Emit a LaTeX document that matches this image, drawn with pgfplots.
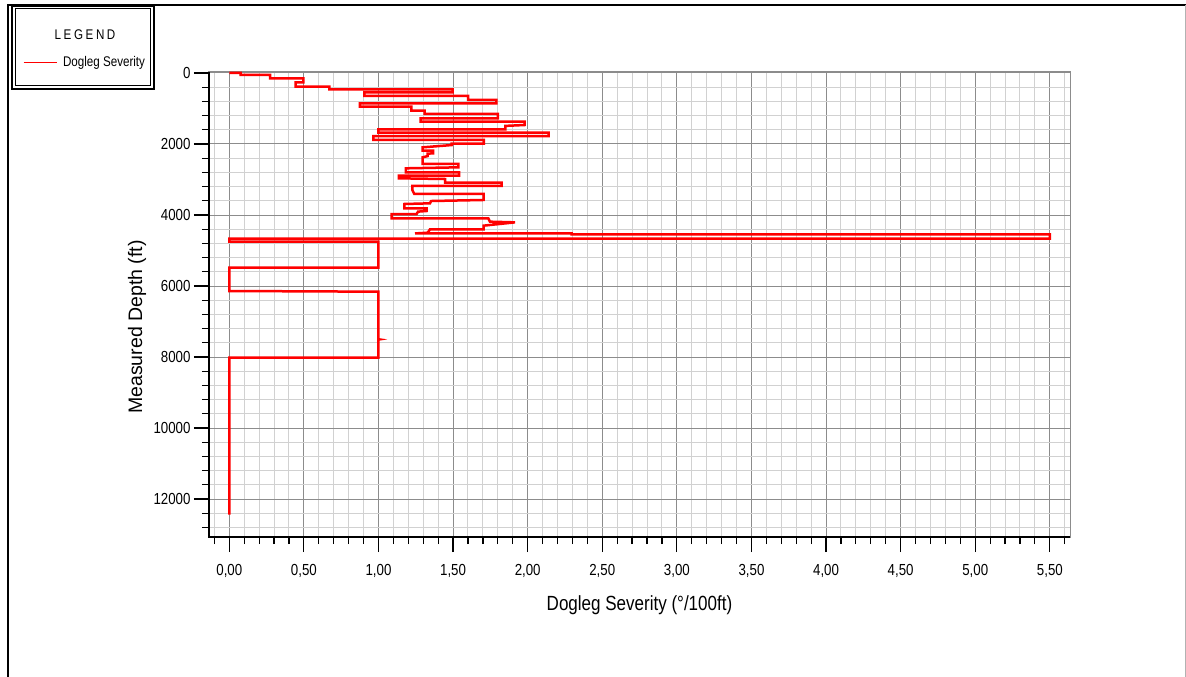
\documentclass[border=0pt]{standalone}
\usepackage{fontspec}
\setmainfont{Liberation Sans}
\newfontfamily\narrowfont[FakeStretch=0.83]{Liberation Sans}
\usepackage{pgfplots}
\pgfplotsset{compat=1.18}
\begin{document}
\begin{tikzpicture}[x=1pt,y=1pt]
\useasboundingbox (0,0) rectangle (1186,677);
% outer frame
\draw[black, line width=2pt] (8,0) -- (8,672) -- (1186,672);
\draw[black!30, line width=1pt] (1185,672) -- (1185,0);
% legend frame
\draw[black, line width=2.4pt] (12,671) rectangle (153.8,588);
\draw[black, line width=0.8pt] (15.2,669) rectangle (150.7,591.3);
\node[font=\narrowfont\fontsize{14}{16}\selectfont] at (85,642) {L\kern2.6pt E\kern2.6pt G\kern2.6pt E\kern2.6pt N\kern2.6pt D};
\begin{axis}[
  at={(209pt,140pt)}, anchor=south west,
  scale only axis, width=861pt, height=465pt,
  xmin=-0.136, xmax=5.635, ymin=-28, ymax=13070,
  y dir=reverse,
  clip=false,
  scaled y ticks=false, scaled x ticks=false,
  xtick={0,0.5,...,5.5},
  minor xtick={-0.1,0.1,0.2,...,5.6},
  ytick={0,2000,...,12000},
  minor ytick={400,800,...,12800},
  xtick pos=lower, ytick pos=left,
  tick align=outside,
  major tick length=15pt, minor tick length=7pt,
  tick style={black, line width=1.2pt},
  grid=both,
  major grid style={draw=black!45, line width=1pt},
  minor grid style={draw=black!18, line width=1pt},
  axis line style={draw=black!45, line width=1pt},
  /pgf/number format/assume math mode=true,
  xticklabel style={yshift=-9pt, font=\narrowfont\fontsize{16}{18}\selectfont, /pgf/number format/.cd, fixed, fixed zerofill, precision=2, use comma},
  yticklabel style={font=\narrowfont\fontsize{16}{18}\selectfont, /pgf/number format/.cd, fixed, precision=0, 1000 sep={}},
  xlabel={Dogleg Severity (°/100ft)},
  ylabel={Measured Depth (ft)},
  xlabel style={at={(axis description cs:0.5,-0.146)}, anchor=center, font=\narrowfont\fontsize{20.5}{22}\selectfont},
  ylabel style={at={(axis description cs:-0.0836,0.4516)}, anchor=center, font=\fontsize{19.5}{22}\selectfont},
  legend style={at={(axis description cs:-0.216,1.0215)}, anchor=west, draw=none, fill=none, inner sep=0pt, outer sep=0pt, font=\narrowfont\fontsize{14}{16}\selectfont, column sep=6pt, nodes={inner sep=0pt}},
  legend image code/.code={\draw[#1, line width=1pt] (0pt,0pt) -- (33pt,0pt);},
]
\addplot[red, line width=2.5pt] coordinates {
(0,0) (0.076,0) (0.076,56) (0.273,56) (0.273,150) (0.496,150) (0.496,263)
(0.445,263) (0.445,385) (0.67,385) (0.67,460) (1.497,460) (1.497,545)
(0.905,545) (0.905,648) (1.60,648) (1.60,760) (1.79,760) (1.79,854)
(0.876,854) (0.876,948) (1.22,948) (1.22,1061) (1.31,1061) (1.31,1155)
(1.80,1155) (1.80,1277) (1.283,1277) (1.283,1371) (1.98,1371) (1.98,1465)
(1.85,1490) (1.85,1587) (1.0,1587) (1.0,1681) (2.14,1681) (2.14,1775)
(0.965,1775) (0.965,1887) (1.707,1887) (1.707,1990) (1.49,1990) (1.49,2030)
(1.296,2094) (1.296,2188) (1.367,2188) (1.367,2263) (1.33,2272) (1.33,2340)
(1.296,2375) (1.296,2563) (1.535,2563) (1.535,2657) (1.184,2685) (1.184,2798)
(1.54,2798) (1.54,2892) (1.137,2892) (1.137,2967) (1.446,2986) (1.446,3089)
(1.826,3089) (1.826,3183) (1.227,3183) (1.227,3295) (1.24,3408) (1.705,3408)
(1.705,3577) (1.353,3606) (1.345,3671) (1.173,3690) (1.173,3812) (1.323,3812)
(1.323,3887) (1.265,3905) (1.256,3972) (1.088,3972) (1.088,4094) (1.736,4094)
(1.747,4188) (1.915,4207) (1.705,4300) (1.705,4404) (1.345,4404) (1.33,4498)
(1.245,4520) (2.295,4520) (2.295,4545) (5.5,4545) (5.5,4665) (0,4665)
(0,4752) (1.0,4752) (1.0,5484) (0,5484) (0,6141) (1.0,6160) (1.0,7500)
(1.006,7504) (1.0,7508) (1.0,8019) (0,8019) (0,12442)
};
\addlegendentry{Dogleg Severity}
\draw[black, line width=1.3pt] (axis cs:-0.136,-28) -- (axis cs:-0.136,13070) -- (axis cs:5.635,13070);
\end{axis}
\end{tikzpicture}
\end{document}
